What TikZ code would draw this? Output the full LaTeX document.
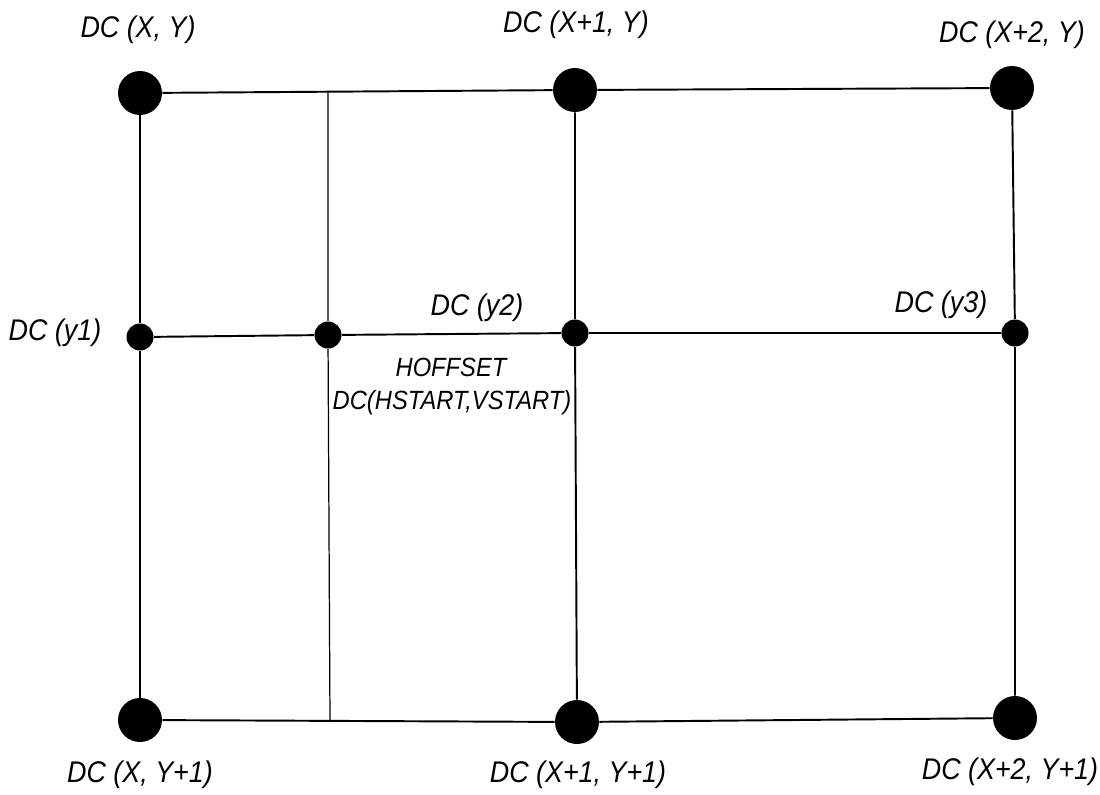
\documentclass[tikz,border=0pt]{standalone}
\usepackage{fontspec}
\setmainfont{Liberation Sans}
\newfontfamily\narrowsans[FakeStretch=0.9]{Liberation Sans}
\usepackage{tikz}
\usetikzlibrary{shapes}

\tikzset{
  bigdot/.style={circle,fill=black,inner sep=0pt,minimum size=0.88cm},
  smalldot/.style={circle,fill=black,inner sep=0pt,minimum size=0.54cm},
  lbl/.style={font=\narrowsans\fontsize{17}{19}\selectfont\itshape,inner sep=0pt},
  smalllbl/.style={font=\narrowsans\fontsize{15}{17}\selectfont\itshape,inner sep=0pt}
}

\begin{document}
\begin{tikzpicture}[x=0.02cm,y=-0.02cm]
\useasboundingbox (0,0) rectangle (1100,795);

% dots
\node[bigdot] (tl) at (140,93) {};
\node[bigdot] (tm) at (575,90) {};
\node[bigdot] (tr) at (1012,88) {};
\node[smalldot] (ml) at (140,337) {};
\node[smalldot] (mh) at (328,335) {};
\node[smalldot] (mm) at (575,333) {};
\node[smalldot] (mr) at (1015,333) {};
\node[bigdot] (bl) at (140,720) {};
\node[bigdot] (bm) at (577,722) {};
\node[bigdot] (br) at (1015,718) {};
\node[coordinate] (hstop) at (328,92) {};
\node[coordinate] (hsbot) at (330,722) {};

% grid
\draw[line width=1.1pt] (tl) -- (tm) -- (tr);
\draw[line width=1.1pt] (ml) -- (mh) -- (mm) -- (mr);
\draw[line width=1.1pt] (bl) -- (bm) -- (br);
\draw[line width=1.1pt] (tl) -- (ml) -- (bl);
\draw[line width=1.1pt] (tm) -- (mm) -- (bm);
\draw[line width=1.1pt] (tr) -- (mr) -- (br);
\draw[line width=0.7pt] (hstop) -- (mh) -- (hsbot);

% labels
\node[lbl] (ltl) at (138,30) {DC (X, Y)};
\node[lbl] (ltm) at (576,25) {DC (X+1, Y)};
\node[lbl] (ltr) at (1012,35) {DC (X+2, Y)};
\node[lbl] (lml) at (55,333) {DC (y1)};
\node[lbl] (lmm) at (477,308) {DC (y2)};
\node[lbl] (lmr) at (941,305) {DC (y3)};
\node[smalllbl] (lhoff) at (451,367) {HOFFSET};
\node[smalllbl] (lhs) at (452,403) {DC(HSTART,VSTART)};
\node[lbl] (lbl) at (140,775) {DC (X, Y+1)};
\node[lbl] (lbm) at (578,775) {DC (X+1, Y+1)};
\node[lbl] (lbr) at (1010,772) {DC (X+2, Y+1)};
\end{tikzpicture}
\end{document}
